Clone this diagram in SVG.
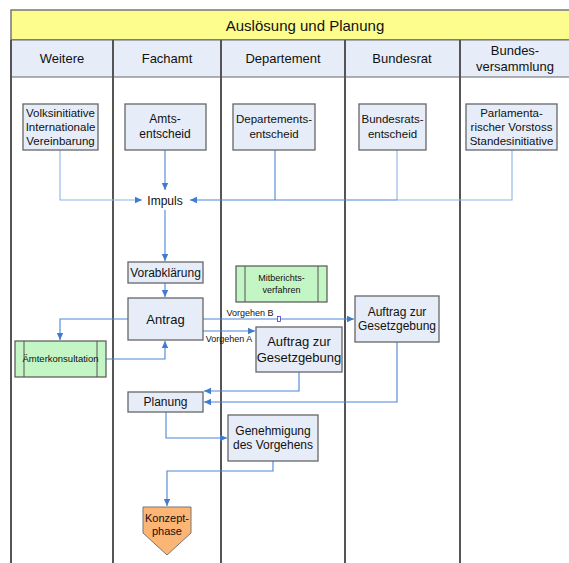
<svg xmlns="http://www.w3.org/2000/svg" width="569" height="563" viewBox="0 0 569 563">
<defs>
<marker id="ah" markerWidth="8" markerHeight="8" refX="7" refY="4" orient="auto" markerUnits="userSpaceOnUse">
<path d="M0,0.8 L7,4 L0,7.2 Z" fill="#3f7bd0"/>
</marker>
</defs>
<style>
text{font-family:"Liberation Sans",Arial,sans-serif;fill:#111;text-anchor:middle}
.lane{stroke:#555;stroke-width:2;fill:none}
.box{fill:#e6edf8;stroke:#666;stroke-width:1.3}
.sub{fill:#c4f5c4;stroke:#555;stroke-width:1.2}
.c{fill:none;stroke:#4a86d8;stroke-width:1.1}
.cl{fill:none;stroke:#8db3e6;stroke-width:1.1}
.t12{font-size:12px}
.t115{font-size:11.5px}
.t13{font-size:13px}
.t9{font-size:9px}
</style>
<rect x="0" y="0" width="569" height="563" fill="#fff"/>
<g id="frame">
<rect x="11" y="10" width="560" height="30" fill="#fdfd8e" stroke="#777" stroke-width="1.5"/>
<rect x="11" y="40" width="560" height="37" fill="#e6edf8" stroke="#666" stroke-width="1"/>
<text x="305" y="31" style="font-size:15px">Auslösung und Planung</text>
<text x="62" y="63" class="t13">Weitere</text>
<text x="167" y="63" class="t13">Fachamt</text>
<text x="283" y="63" class="t13">Departement</text>
<text x="402" y="63" class="t13">Bundesrat</text>
<text x="515" y="55" class="t13">Bundes-</text>
<text x="515" y="71" class="t13">versammlung</text>
<line class="lane" x1="11" y1="40" x2="11" y2="563"/>
<line class="lane" x1="113" y1="40" x2="113" y2="563"/>
<line class="lane" x1="221" y1="40" x2="221" y2="563"/>
<line class="lane" x1="345" y1="40" x2="345" y2="563"/>
<line class="lane" x1="460" y1="40" x2="460" y2="563"/>
</g>
<g id="connectors">
<path class="cl" d="M60,150 V200 H142" marker-end="url(#ah)"/>
<path class="c" d="M165,150 V190" marker-end="url(#ah)"/>
<path class="cl" d="M512,150 V200 H397"/>
<path class="cl" d="M397,150 V200"/>
<path class="c" d="M275,150 V200"/>
<path class="c" d="M397,200 H190" marker-end="url(#ah)"/>
<path class="c" d="M165,210 V261" marker-end="url(#ah)"/>
<path class="c" d="M165,283 V297" marker-end="url(#ah)"/>
<path class="c" d="M128,319 H60 V340" marker-end="url(#ah)"/>
<path class="c" d="M106,359 H165 V341" marker-end="url(#ah)"/>
<path class="c" d="M203,319 H354" marker-end="url(#ah)"/>
<rect x="277.5" y="316.5" width="3" height="5" fill="#fff" stroke="#3f3fd0" stroke-width="0.8"/>
<path class="c" d="M203,331 H255" marker-end="url(#ah)"/>
<path class="c" d="M299,371 V391 H204" marker-end="url(#ah)"/>
<path class="c" d="M397,342 V402 H204" marker-end="url(#ah)"/>
<path class="c" d="M166,412 V438 H227" marker-end="url(#ah)"/>
<path class="c" d="M273,461 V471 H167 V506" marker-end="url(#ah)"/>
<text x="250" y="316" class="t9">Vorgehen B</text>
<text x="229" y="342" class="t9">Vorgehen A</text>
</g>
<g id="volksinitiative">
<rect class="box" x="23" y="104" width="75" height="46"/>
<text x="60.5" y="117" class="t115">Volksinitiative</text>
<text x="60.5" y="131" class="t115">Internationale</text>
<text x="60.5" y="145" class="t115">Vereinbarung</text>
</g>
<g id="amtsentscheid">
<rect class="box" x="125" y="104" width="81" height="46"/>
<text x="165" y="123" class="t12">Amts-</text>
<text x="165" y="138" class="t12">entscheid</text>
</g>
<g id="departementsentscheid">
<rect class="box" x="233" y="104" width="82" height="46"/>
<text x="274" y="123" class="t115">Departements-</text>
<text x="274" y="138" class="t115">entscheid</text>
</g>
<g id="bundesratsentscheid">
<rect class="box" x="359" y="104" width="67" height="46"/>
<text x="392.5" y="123" class="t115">Bundesrats-</text>
<text x="392.5" y="138" class="t115">entscheid</text>
</g>
<g id="parlamentarischer">
<rect class="box" x="466" y="104" width="91" height="46"/>
<text x="511.5" y="117" class="t115">Parlamenta-</text>
<text x="511.5" y="131" class="t115">rischer Vorstoss</text>
<text x="511.5" y="145" class="t115">Standesinitiative</text>
</g>
<g id="impuls">
<text x="165" y="205" class="t12">Impuls</text>
</g>
<g id="vorabklaerung">
<rect class="box" x="128" y="262" width="75" height="21"/>
<text x="165.5" y="277" class="t12">Vorabklärung</text>
</g>
<g id="antrag">
<rect class="box" x="128" y="298" width="75" height="42"/>
<text x="165.5" y="324" class="t13">Antrag</text>
</g>
<g id="mitberichtsverfahren">
<rect class="sub" x="236" y="266" width="91" height="36"/>
<line x1="245" y1="266" x2="245" y2="302" stroke="#555" stroke-width="1"/>
<line x1="318" y1="266" x2="318" y2="302" stroke="#555" stroke-width="1"/>
<text x="281.5" y="281" class="t9">Mitberichts-</text>
<text x="281.5" y="293" class="t9">verfahren</text>
</g>
<g id="aemterkonsultation">
<rect class="sub" x="15" y="341" width="91" height="36"/>
<line x1="24" y1="341" x2="24" y2="377" stroke="#555" stroke-width="1"/>
<line x1="97" y1="341" x2="97" y2="377" stroke="#555" stroke-width="1"/>
<text x="60.5" y="362" style="font-size:9.5px">Ämterkonsultation</text>
</g>
<g id="auftrag-departement">
<rect class="box" x="256" y="327" width="86" height="45"/>
<text x="299" y="346" class="t13">Auftrag zur</text>
<text x="299" y="362" class="t13">Gesetzgebung</text>
</g>
<g id="auftrag-bundesrat">
<rect class="box" x="355" y="296" width="84" height="46"/>
<text x="397" y="316" class="t12">Auftrag zur</text>
<text x="397" y="330" class="t12">Gesetzgebung</text>
</g>
<g id="planung">
<rect class="box" x="128" y="392" width="75" height="20"/>
<text x="165.5" y="406" class="t12">Planung</text>
</g>
<g id="genehmigung">
<rect class="box" x="228" y="415" width="90" height="46"/>
<text x="273" y="435" class="t12">Genehmigung</text>
<text x="273" y="449" class="t12">des Vorgehens</text>
</g>
<g id="konzeptphase">
<path d="M143,507 H191 V533 L167,555 L143,533 Z" fill="#fcb575" stroke="#777" stroke-width="1"/>
<text x="167" y="522" style="font-size:11px">Konzept-</text>
<text x="167" y="535" style="font-size:11px">phase</text>
</g>
</svg>
